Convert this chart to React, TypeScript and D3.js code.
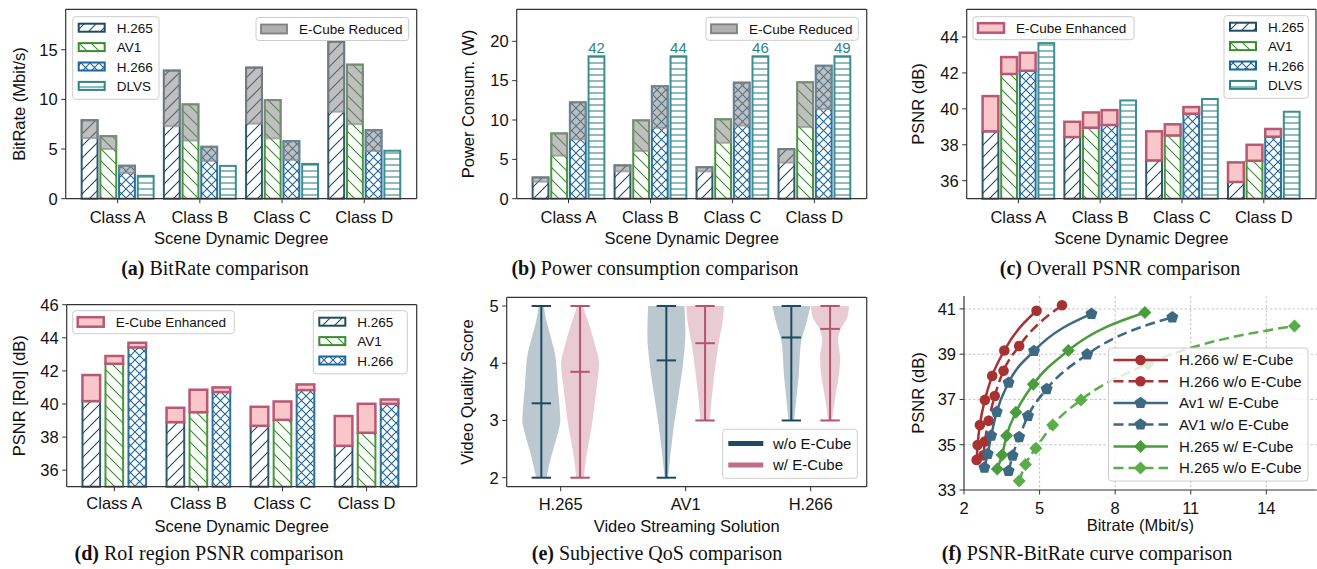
import React from 'react';
import * as d3 from 'd3';

// ---------------- DATA ----------------
const classLabels = ['Class A', 'Class B', 'Class C', 'Class D'];
const codecNames = ['H.265', 'AV1', 'H.266', 'DLVS'];
const codecColors = ['#1f4b63', '#3b8d2f', '#1d6798', '#2e8585'];

// (a) BitRate (Mbit/s): with E-Cube, and without E-Cube (total height)
const bitrateWith = [
  [6.1, 7.3, 7.55, 8.76],
  [5.0, 5.85, 6.07, 7.5],
  [2.6, 3.8, 3.9, 4.8],
  [2.3, 3.3, 3.5, 4.83],
];
const bitrateWithout = [
  [7.9, 12.9, 13.2, 15.8],
  [6.3, 9.5, 9.93, 13.5],
  [3.32, 5.23, 5.8, 6.9],
  [2.3, 3.3, 3.5, 4.83],
];
const bitrateTicks = [0, 5, 10, 15];

// (b) Power consumption (W)
const powerWith = [
  [2.16, 3.47, 3.47, 4.58],
  [5.47, 6.06, 7.1, 9.1],
  [7.54, 9.0, 9.28, 11.4],
  [42, 44, 46, 49],
];
const powerWithout = [
  [2.7, 4.24, 4.0, 6.3],
  [8.3, 9.96, 10.1, 14.8],
  [12.25, 14.3, 14.75, 16.9],
  [42, 44, 46, 49],
];
const powerCap = 18.1;
const powerTicks = [0, 5, 10, 15, 20];

// (c) Overall PSNR (dB)
const psnrBase = [
  [38.75, 38.43, 37.13, 35.93],
  [41.94, 38.95, 38.52, 37.11],
  [42.12, 39.1, 39.73, 38.45],
  [43.66, 40.47, 40.55, 39.84],
];
const psnrEnhanced = [
  [40.71, 39.28, 38.75, 37.02],
  [42.88, 39.8, 39.14, 38.0],
  [43.12, 39.93, 40.1, 38.88],
  [43.66, 40.47, 40.55, 39.84],
];
const psnrTicks = [36, 38, 40, 42, 44];

// (d) RoI PSNR (dB)
const roiBase = [
  [40.17, 38.9, 38.68, 37.47],
  [42.43, 39.5, 39.04, 38.26],
  [43.42, 40.72, 40.84, 40.01],
];
const roiEnhanced = [
  [41.75, 39.77, 39.83, 39.27],
  [42.9, 40.86, 40.15, 40.01],
  [43.7, 41.0, 41.18, 40.27],
];
const roiTicks = [36, 38, 40, 42, 44, 46];

// (e) Subjective scores: violin profiles [score, relative half-width]
const qosSolutions = ['H.265', 'AV1', 'H.266'];
const violinWithout = [
  [[2.0, 0.28], [2.2, 0.4], [2.5, 0.63], [2.77, 0.86], [3.0, 1.0], [3.2, 0.97], [3.53, 0.88], [3.83, 0.82], [4.12, 0.74], [4.5, 0.46], [4.8, 0.23], [5.0, 0.14]],
  [[2.0, 0.09], [2.5, 0.25], [3.0, 0.44], [3.5, 0.67], [4.0, 0.88], [4.5, 1.0], [4.8, 0.98], [5.0, 0.96]],
  [[3.0, 0.14], [3.2, 0.21], [3.5, 0.3], [3.8, 0.39], [4.1, 0.44], [4.4, 0.53], [4.7, 0.79], [5.0, 1.0]],
];
const violinWith = [
  [[2.0, 0.2], [2.3, 0.3], [2.6, 0.45], [3.0, 0.66], [3.3, 0.77], [3.65, 0.9], [4.0, 1.0], [4.3, 0.8], [4.6, 0.55], [4.85, 0.3], [5.0, 0.14]],
  [[3.0, 0.25], [3.3, 0.32], [3.6, 0.42], [4.0, 0.56], [4.4, 0.74], [4.7, 0.91], [5.0, 1.0]],
  [[3.0, 0.1], [3.2, 0.18], [3.5, 0.32], [3.8, 0.47], [4.1, 0.53], [4.4, 0.42], [4.6, 0.56], [4.8, 0.91], [5.0, 1.0]],
];
const qosMeanWithout = [3.3, 4.05, 4.45];
const qosMeanWith = [3.85, 4.35, 4.6];
const qosRangeWithout = [[2, 5], [2, 5], [3, 5]];
const qosRangeWith = [[2, 5], [3, 5], [3, 5]];
const qosTicks = [2, 3, 4, 5];

// (f) PSNR-BitRate curves [bitrate, psnr]
const h266With = [[2.5, 34.33], [2.54, 34.99], [2.63, 35.87], [2.83, 36.98], [3.12, 38.04], [3.6, 39.16], [4.88, 40.92]];
const h266Without = [[2.77, 34.53], [2.83, 35.14], [2.98, 36.06], [3.22, 37.15], [3.57, 38.27], [4.19, 39.36], [5.89, 41.16]];
const av1With = [[2.81, 33.99], [2.94, 34.59], [3.08, 35.4], [3.3, 36.45], [3.77, 37.74], [4.78, 39.14], [7.06, 40.78]];
const av1Without = [[3.77, 33.84], [3.93, 34.52], [4.19, 35.34], [4.54, 36.27], [5.28, 37.46], [6.89, 38.99], [10.27, 40.63]];
const h265With = [[3.32, 33.93], [3.51, 34.55], [3.69, 35.4], [4.06, 36.43], [4.75, 37.67], [6.14, 39.16], [9.18, 40.84]];
const h265Without = [[4.19, 33.4], [4.44, 34.13], [4.85, 34.84], [5.52, 35.87], [6.64, 36.98], [9.3, 38.57], [15.12, 40.25]];
const curveXTicks = [2, 5, 8, 11, 14];
const curveYTicks = [33, 35, 37, 39, 41];

// ---------------- STYLE ----------------
const FONT = "'Liberation Sans', Arial, Helvetica, sans-serif";
const SERIF = "'Liberation Serif', 'Times New Roman', serif";
const AX = '#333333';
const TICK_FS = 16.5;
const LEG_FS = 13.5;
const PINK_FILL = '#f9c6ca';
const PINK_EDGE = '#b85872';
const WO_COLOR = '#1d4a62';
const W_COLOR = '#b5546f';

const PA = { x0: 65.7, x1: 416.7, y0: 9.3, y1: 198.7 };
const PB = { x0: 516.7, x1: 866.7, y0: 9.3, y1: 198.7 };
const PC = { x0: 966.7, x1: 1316, y0: 9.3, y1: 198.7 };
const PD = { x0: 66.7, x1: 416.7, y0: 304.7, y1: 486.7 };
const PE = { x0: 506.7, x1: 866.7, y0: 297.3, y1: 486.7 };
const PF = { x0: 964, x1: 1316.7, y0: 296, y1: 490 };

type Box = { x0: number; x1: number; y0: number; y1: number };

function Patterns() {
  const s = 12;
  const xs = 9;
  return (
    <defs>
      <pattern id="hatch-0" patternUnits="userSpaceOnUse" width={s} height={s}>
        <path d={`M-2,2 L2,-2 M0,${s} L${s},0 M${s - 2},${s + 2} L${s + 2},${s - 2}`} stroke={codecColors[0]} strokeWidth={1.1} />
      </pattern>
      <pattern id="hatch-1" patternUnits="userSpaceOnUse" width={s} height={s}>
        <path d={`M-2,${s - 2} L2,${s + 2} M0,0 L${s},${s} M${s - 2},-2 L${s + 2},2`} stroke={codecColors[1]} strokeWidth={1.1} />
      </pattern>
      <pattern id="hatch-2" patternUnits="userSpaceOnUse" width={xs} height={xs}>
        <path d={`M0,0 L${xs},${xs} M0,${xs} L${xs},0`} stroke={codecColors[2]} strokeWidth={1.1} />
      </pattern>
      <pattern id="hatch-3" patternUnits="userSpaceOnUse" width={6} height={6}>
        <path d="M0,3 L6,3" stroke={codecColors[3]} strokeWidth={1.1} />
      </pattern>
    </defs>
  );
}

function Frame({ box, all = true }: { box: Box; all?: boolean }) {
  return (
    <g stroke={AX} strokeWidth={1.2} fill="none">
      <line x1={box.x0} y1={box.y0} x2={box.x0} y2={box.y1} />
      <line x1={box.x0} y1={box.y1} x2={box.x1} y2={box.y1} />
      {all && <line x1={box.x0} y1={box.y0} x2={box.x1} y2={box.y0} />}
      {all && <line x1={box.x1} y1={box.y0} x2={box.x1} y2={box.y1} />}
    </g>
  );
}

function YAxis({ box, scale, ticks }: { box: Box; scale: any; ticks: number[] }) {
  return (
    <g>
      {ticks.map((t) => (
        <g key={t}>
          <line x1={box.x0 - 4.5} x2={box.x0} y1={scale(t)} y2={scale(t)} stroke={AX} strokeWidth={1} />
          <text x={box.x0 - 8} y={scale(t) + 5.8} textAnchor="end" fontSize={TICK_FS} fontFamily={FONT} fill="#111">{t}</text>
        </g>
      ))}
    </g>
  );
}

function XAxis({ box, positions, labels, baseline }: { box: Box; positions: number[]; labels: (string | number)[]; baseline: number }) {
  return (
    <g>
      {positions.map((p, i) => (
        <g key={i}>
          <line x1={p} x2={p} y1={box.y1} y2={box.y1 + 4.5} stroke={AX} strokeWidth={1} />
          <text x={p} y={baseline} textAnchor="middle" fontSize={TICK_FS} fontFamily={FONT} fill="#111">{labels[i]}</text>
        </g>
      ))}
    </g>
  );
}

function YLabel({ x, box, text }: { x: number; box: Box; text: string }) {
  return (
    <text transform={`translate(${x},${(box.y0 + box.y1) / 2}) rotate(-90)`} textAnchor="middle" fontSize={TICK_FS} fontFamily={FONT} fill="#111">{text}</text>
  );
}

function XLabel({ box, y, text }: { box: Box; y: number; text: string }) {
  return (
    <text x={(box.x0 + box.x1) / 2} y={y} textAnchor="middle" fontSize={TICK_FS} fontFamily={FONT} fill="#111">{text}</text>
  );
}

function LegendFrame({ x, y, w, h }: { x: number; y: number; w: number; h: number }) {
  return <rect x={x} y={y} width={w} height={h} rx={3} fill="#fff" fillOpacity={0.8} stroke="#cccccc" strokeWidth={1} />;
}

function CodecPatch({ x, y, i }: { x: number; y: number; i: number }) {
  return (
    <g>
      <rect x={x} y={y} width={26} height={8} fill="#fff" />
      <rect x={x} y={y} width={26} height={8} fill={`url(#hatch-${i})`} stroke={codecColors[i]} strokeWidth={2} />
    </g>
  );
}

function CodecLegend({ x, y, n, w }: { x: number; y: number; n: number; w: number }) {
  const rowH = 19.4;
  return (
    <g>
      <LegendFrame x={x} y={y} w={w} h={n * rowH + 5} />
      {codecNames.slice(0, n).map((name, i) => (
        <g key={name}>
          <CodecPatch x={x + 6} y={y + 7 + i * rowH} i={i} />
          <text x={x + 44} y={y + 16.3 + i * rowH} fontSize={LEG_FS} fontFamily={FONT} fill="#111">{name}</text>
        </g>
      ))}
    </g>
  );
}

function SingleLegend({ x, y, w, kind, label }: { x: number; y: number; w: number; kind: 'reduced' | 'enhanced'; label: string }) {
  return (
    <g>
      <LegendFrame x={x} y={y} w={w} h={23} />
      {kind === 'reduced' ? (
        <rect x={x + 5} y={y + 7} width={26} height={9} fill="#b0b0b0" stroke="#808080" strokeWidth={1.8} />
      ) : (
        <rect x={x + 5} y={y + 6.5} width={26} height={9.5} fill={PINK_FILL} stroke={PINK_EDGE} strokeWidth={2.5} />
      )}
      <text x={x + 43} y={y + 16.3} fontSize={LEG_FS} fontFamily={FONT} fill="#111">{label}</text>
    </g>
  );
}

function BarPanel({ box, xDomain, yDomain, nCodecs, slot, barW, lower, upper, mode, cap }: any) {
  const x = d3.scaleLinear().domain(xDomain).range([box.x0, box.x1]);
  const y = d3.scaleLinear().domain(yDomain).range([box.y1, box.y0]);
  const out: any[] = [];
  for (let i = 0; i < nCodecs; i++) {
    for (let j = 0; j < classLabels.length; j++) {
      const c = j + (i - (nCodecs - 1) / 2) * slot;
      const xl = x(c - barW / 2);
      const w = x(c + barW / 2) - xl;
      let lo = lower[i][j];
      let hi = upper[i][j];
      const overCap = cap != null && hi > cap;
      if (cap != null) {
        lo = Math.min(lo, cap);
        hi = Math.min(hi, cap);
      }
      const color = codecColors[i];
      if (mode === 'reduced') {
        const top = y(hi);
        const h = y(yDomain[0]) - top;
        out.push(
          <g key={`${i}-${j}`}>
            <rect x={xl} y={top} width={w} height={h} fill="#fff" />
            <rect x={xl} y={top} width={w} height={h} fill={`url(#hatch-${i})`} stroke={color} strokeWidth={2} strokeOpacity={0.92} />
            {hi > lo && (
              <rect x={xl} y={top} width={w} height={y(lo) - top} fill="#808080" fillOpacity={0.5} stroke="#8a8a8a" strokeOpacity={0.65} strokeWidth={2} />
            )}
            {overCap && (
              <text x={xl + w / 2} y={top - 3.5} textAnchor="middle" fontSize={15} fontFamily={FONT} fill={color}>{upper[i][j]}</text>
            )}
          </g>
        );
      } else {
        const top = y(lo);
        const h = y(yDomain[0]) - top;
        out.push(
          <g key={`${i}-${j}`}>
            <rect x={xl} y={top} width={w} height={h} fill="#fff" />
            <rect x={xl} y={top} width={w} height={h} fill={`url(#hatch-${i})`} stroke={color} strokeWidth={2} strokeOpacity={0.92} />
            {hi > lo && (
              <rect x={xl} y={y(hi)} width={w} height={y(lo) - y(hi)} fill={PINK_FILL} stroke={PINK_EDGE} strokeWidth={2.5} />
            )}
          </g>
        );
      }
    }
  }
  return <g>{out}</g>;
}

function barPanelAxes(box: Box, xDomain: number[], yDomain: number[], ticks: number[], tickBaseline: number) {
  const x = d3.scaleLinear().domain(xDomain).range([box.x0, box.x1]);
  const y = d3.scaleLinear().domain(yDomain).range([box.y1, box.y0]);
  return (
    <g>
      <Frame box={box} />
      <YAxis box={box} scale={y} ticks={ticks} />
      <XAxis box={box} positions={classLabels.map((_, j) => x(j))} labels={classLabels} baseline={tickBaseline} />
    </g>
  );
}

function pentagonPath(r: number) {
  const pts = d3.range(5).map((k) => {
    const a = -Math.PI / 2 + (k * 2 * Math.PI) / 5;
    return [r * Math.cos(a), r * Math.sin(a)];
  });
  return 'M' + pts.map((p) => p.join(',')).join('L') + 'Z';
}

function Marker({ kind, x, y, color }: { kind: string; x: number; y: number; color: string }) {
  if (kind === 'circle') return <circle cx={x} cy={y} r={5.3} fill={color} />;
  if (kind === 'pentagon') return <path transform={`translate(${x},${y})`} d={pentagonPath(6.3)} fill={color} />;
  return <path transform={`translate(${x},${y})`} d="M0,-6.5L6.5,0L0,6.5L-6.5,0Z" fill={color} />;
}

const curveSeries = [
  { name: 'H.266 w/ E-Cube', data: h266With, color: '#a83232', dash: false, marker: 'circle' },
  { name: 'H.266 w/o E-Cube', data: h266Without, color: '#a83232', dash: true, marker: 'circle' },
  { name: 'Av1 w/ E-Cube', data: av1With, color: '#3d6983', dash: false, marker: 'pentagon' },
  { name: 'AV1 w/o E-Cube', data: av1Without, color: '#3d6983', dash: true, marker: 'pentagon' },
  { name: 'H.265 w/ E-Cube', data: h265With, color: '#4b9c3c', dash: false, marker: 'diamond' },
  { name: 'H.265 w/o E-Cube', data: h265Without, color: '#5aae4a', dash: true, marker: 'diamond' },
];

function PanelF() {
  const box = PF;
  const x = d3.scaleLinear().domain([2, 16]).range([box.x0, box.x1]);
  const y = d3.scaleLinear().domain([33, 41.57]).range([box.y1, box.y0]);
  const line = d3.line<number[]>().x((d) => x(d[0])).y((d) => y(d[1])).curve(d3.curveMonotoneX);
  const lg = { x: 1108.5, y: 348, w: 199.5, h: 133 };
  const rowY = [360, 381.3, 403, 424.5, 446.5, 468];
  return (
    <g>
      <g stroke="#b8b8b8" strokeWidth={0.8} strokeDasharray="2.5,2">
        {curveXTicks.slice(1).map((t) => <line key={t} x1={x(t)} x2={x(t)} y1={box.y0} y2={box.y1} />)}
        {curveYTicks.slice(1).map((t) => <line key={t} x1={box.x0} x2={box.x1} y1={y(t)} y2={y(t)} />)}
      </g>
      {curveSeries.map((s) => (
        <g key={s.name}>
          <path d={line(s.data) || ''} fill="none" stroke={s.color} strokeWidth={2.5} strokeDasharray={s.dash ? '10,5' : undefined} />
          {s.data.map((d, k) => <Marker key={k} kind={s.marker} x={x(d[0])} y={y(d[1])} color={s.color} />)}
        </g>
      ))}
      <Frame box={box} all={false} />
      <YAxis box={box} scale={y} ticks={curveYTicks} />
      <XAxis box={box} positions={curveXTicks.map((t) => x(t))} labels={curveXTicks} baseline={514} />
      <YLabel x={924} box={box} text="PSNR (dB)" />
      <XLabel box={box} y={531} text="Bitrate (Mbit/s)" />
      <LegendFrame x={lg.x} y={lg.y} w={lg.w} h={lg.h} />
      {curveSeries.map((s, k) => (
        <g key={s.name}>
          <line x1={1113.5} x2={1168} y1={rowY[k]} y2={rowY[k]} stroke={s.color} strokeWidth={2.5} strokeDasharray={s.dash ? '10,5' : undefined} />
          <Marker kind={s.marker} x={1140.5} y={rowY[k]} color={s.color} />
          <text x={1179} y={rowY[k] + 5.3} fontSize={15} fontFamily={FONT} fill="#111">{s.name}</text>
        </g>
      ))}
    </g>
  );
}

function PanelE() {
  const box = PE;
  const x = d3.scaleLinear().domain([0.568, 3.448]).range([box.x0, box.x1]);
  const y = d3.scaleLinear().domain([1.843, 5.152]).range([box.y1, box.y0]);
  const maxHalf = 0.152;
  const offset = 0.155;
  const capHalf = 9.7;
  const groups = [
    { prof: violinWithout, mean: qosMeanWithout, range: qosRangeWithout, color: WO_COLOR, off: -offset },
    { prof: violinWith, mean: qosMeanWith, range: qosRangeWith, color: W_COLOR, off: offset },
  ];
  return (
    <g>
      {groups.map((g, gi) =>
        qosSolutions.map((_, k) => {
          const cx = k + 1 + g.off;
          const area = d3
            .area<number[]>()
            .y((d) => y(d[0]))
            .x0((d) => x(cx - d[1] * maxHalf))
            .x1((d) => x(cx + d[1] * maxHalf))
            .curve(d3.curveMonotoneY);
          const px = x(cx);
          const [lo, hi] = g.range[k];
          return (
            <g key={`${gi}-${k}`}>
              <path d={area(g.prof[k]) || ''} fill={g.color} fillOpacity={0.3} />
              <g stroke={g.color} strokeWidth={2}>
                <line x1={px} x2={px} y1={y(lo)} y2={y(hi)} />
                <line x1={px - capHalf} x2={px + capHalf} y1={y(lo)} y2={y(lo)} />
                <line x1={px - capHalf} x2={px + capHalf} y1={y(hi)} y2={y(hi)} />
                <line x1={px - capHalf} x2={px + capHalf} y1={y(g.mean[k])} y2={y(g.mean[k])} />
              </g>
            </g>
          );
        })
      )}
      <Frame box={box} />
      <YAxis box={box} scale={y} ticks={qosTicks} />
      <XAxis box={box} positions={qosSolutions.map((_, k) => x(k + 1))} labels={qosSolutions} baseline={510} />
      <YLabel x={473} box={box} text="Video Quality Score" />
      <XLabel box={box} y={532} text="Video Streaming Solution" />
      <LegendFrame x={722.7} y={429.3} w={134.6} h={49} />
      <line x1={728.3} x2={763.3} y1={443.5} y2={443.5} stroke={WO_COLOR} strokeWidth={5} />
      <line x1={728.3} x2={763.3} y1={465} y2={465} stroke={W_COLOR} strokeWidth={5} strokeOpacity={0.85} />
      <text x={773} y={448.8} fontSize={15} fontFamily={FONT} fill="#111">w/o E-Cube</text>
      <text x={773} y={470.3} fontSize={15} fontFamily={FONT} fill="#111">w/ E-Cube</text>
    </g>
  );
}

function Caption({ x, y, tag, text }: { x: number; y: number; tag: string; text: string }) {
  return (
    <text x={x} y={y} textAnchor="middle" fontSize={20} fontFamily={SERIF} fill="#111">
      <tspan fontWeight="bold">{tag}</tspan> {text}
    </text>
  );
}

export default function App() {
  const dom4 = [-0.632, 3.638];
  const domD = [-0.566, 3.596];
  const slot4 = 0.2275;
  const bw4 = 0.193;
  return (
    <svg width={1317} height={569} viewBox="0 0 1317 569" style={{ position: 'absolute', left: 0, top: 0, background: '#fff' }}>
      <Patterns />
      <rect x={0} y={0} width={1317} height={569} fill="#fff" />

      {/* (a) */}
      <BarPanel box={PA} xDomain={dom4} yDomain={[0, 19.07]} nCodecs={4} slot={slot4} barW={bw4} lower={bitrateWith} upper={bitrateWithout} mode="reduced" />
      {barPanelAxes(PA, dom4, [0, 19.07], bitrateTicks, 223)}
      <YLabel x={25} box={PA} text="BitRate (Mbit/s)" />
      <XLabel box={PA} y={244} text="Scene Dynamic Degree" />
      <CodecLegend x={72.7} y={16.7} n={4} w={86.3} />
      <SingleLegend x={256} y={17.5} w={152.7} kind="reduced" label="E-Cube Reduced" />

      {/* (b) */}
      <BarPanel box={PB} xDomain={dom4} yDomain={[0, 24.07]} nCodecs={4} slot={slot4} barW={bw4} lower={powerWith} upper={powerWithout} mode="reduced" cap={powerCap} />
      {barPanelAxes(PB, dom4, [0, 24.07], powerTicks, 223)}
      <YLabel x={474} box={PB} text="Power Consum. (W)" />
      <XLabel box={PB} y={244} text="Scene Dynamic Degree" />
      <SingleLegend x={706} y={17.3} w={152.3} kind="reduced" label="E-Cube Reduced" />

      {/* (c) */}
      <BarPanel box={PC} xDomain={dom4} yDomain={[35, 45.54]} nCodecs={4} slot={slot4} barW={bw4} lower={psnrBase} upper={psnrEnhanced} mode="enhanced" />
      {barPanelAxes(PC, dom4, [35, 45.54], psnrTicks, 223)}
      <YLabel x={924} box={PC} text="PSNR (dB)" />
      <XLabel box={PC} y={244} text="Scene Dynamic Degree" />
      <SingleLegend x={973} y={16.7} w={161} kind="enhanced" label="E-Cube Enhanced" />
      <CodecLegend x={1224} y={15.7} n={4} w={84.3} />

      {/* (d) */}
      <BarPanel box={PD} xDomain={domD} yDomain={[35, 46]} nCodecs={3} slot={0.2735} barW={0.21} lower={roiBase} upper={roiEnhanced} mode="enhanced" />
      {barPanelAxes(PD, domD, [35, 46], roiTicks, 509)}
      <YLabel x={25} box={PD} text="PSNR [RoI] (dB)" />
      <XLabel box={PD} y={532} text="Scene Dynamic Degree" />
      <SingleLegend x={72.7} y={310.7} w={161.6} kind="enhanced" label="E-Cube Enhanced" />
      <CodecLegend x={313.3} y={310.7} n={3} w={94} />

      {/* (e) */}
      <PanelE />

      {/* (f) */}
      <PanelF />

      <Caption x={215} y={275} tag="(a)" text="BitRate comparison" />
      <Caption x={655} y={275} tag="(b)" text="Power consumption comparison" />
      <Caption x={1120} y={275} tag="(c)" text="Overall PSNR comparison" />
      <Caption x={209} y={560} tag="(d)" text="RoI region PSNR comparison" />
      <Caption x={657} y={560} tag="(e)" text="Subjective QoS comparison" />
      <Caption x={1087} y={560} tag="(f)" text="PSNR-BitRate curve comparison" />
    </svg>
  );
}
